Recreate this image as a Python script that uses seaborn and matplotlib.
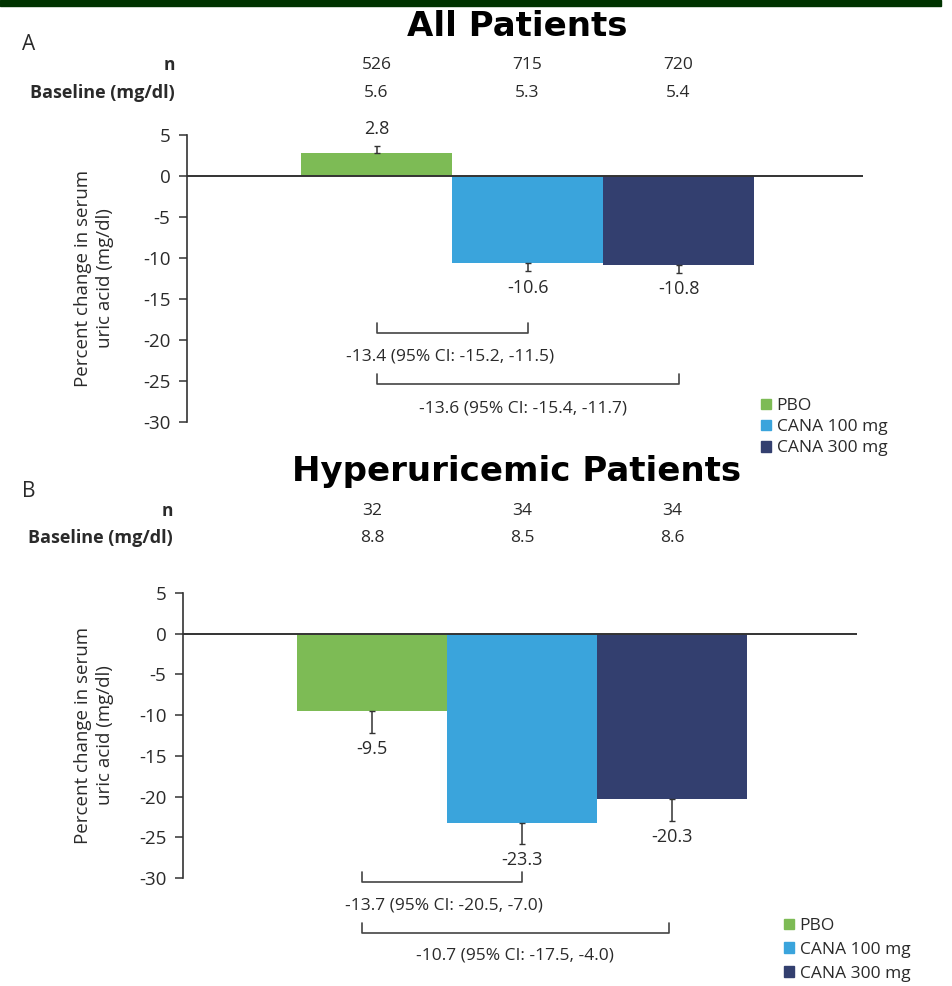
import matplotlib
matplotlib.use("Agg")
import matplotlib.pyplot as plt
import matplotlib.patches as mpatches
import seaborn as sns
import pandas as pd

# ---------------- data ----------------
groups = ["PBO", "CANA 100 mg", "CANA 300 mg"]
colors = ["#7dbb55", "#3aa4dc", "#333f6f"]

titles = ["All Patients", "Hyperuricemic Patients"]
panel_letters = ["A", "B"]

n_A = ["526", "715", "720"]
baseline_A = ["5.6", "5.3", "5.4"]
change_A = [2.8, -10.6, -10.8]
err_A = [0.9, 1.0, 1.0]
diff_A = ["-13.4 (95% CI: -15.2, -11.5)", "-13.6 (95% CI: -15.4, -11.7)"]

n_B = ["32", "34", "34"]
baseline_B = ["8.8", "8.5", "8.6"]
change_B = [-9.5, -23.3, -20.3]
err_B = [2.7, 2.5, 2.7]
diff_B = ["-13.7 (95% CI: -20.5, -7.0)", "-10.7 (95% CI: -17.5, -4.0)"]

yticks = [5, 0, -5, -10, -15, -20, -25, -30]
ylabel = "Percent change in serum\nuric acid (mg/dl)"

# ---------------- style ----------------
sns.set_theme(style="white")
plt.rcParams["font.family"] = ["Open Sans", "DejaVu Sans"]
TXT = "#2a2a2a"
FS = 12.5

W, H = 952, 986
fig = plt.figure(figsize=(W / 100, H / 100), dpi=100)


def fx(x):
    return x / W


def fy(y):
    return 1 - y / H


# top band
fig.patches.append(mpatches.Rectangle((0, fy(6)), fx(941), 6 / H,
                                      transform=fig.transFigure,
                                      color="#003300", zorder=5))

panels = [
    dict(n=n_A, base=baseline_A, change=change_A, err=err_A, diff=diff_A,
         axis_x=187, right=863, top=135, bottom=422, bar_l=301, bar_w=151,
         title_y=26, letter_y=45, n_y=65, base_y=93, lab_x=175,
         br=[(0, 1, -19.1, 0.49, -22.0), (0, 2, -25.4, 0.97, -28.4)],
         leg=(761, 398), leg_sp=0.3),
    dict(n=n_B, base=baseline_B, change=change_B, err=err_B, diff=diff_B,
         axis_x=183, right=857, top=593, bottom=878, bar_l=297, bar_w=150,
         title_y=471, letter_y=492, n_y=511, base_y=538, lab_x=173,
         br=[(-0.07, 1.0, -30.5, 0.48, -33.4), (-0.07, 1.98, -36.7, 0.95, -39.5)],
         leg=(784, 918), leg_sp=0.45),
]

for i, p in enumerate(panels):
    ax = fig.add_axes([fx(p["axis_x"]), fy(p["bottom"]),
                       (p["right"] - p["axis_x"]) / W,
                       (p["bottom"] - p["top"]) / H])
    df = pd.DataFrame({"group": groups, "change": p["change"]})
    sns.barplot(data=df, x="group", y="change", hue="group", order=groups,
                hue_order=groups, palette=colors, width=1.0, legend=False,
                ax=ax, saturation=1, linewidth=0, zorder=2)
    # one-sided error bars (away from zero)
    lower = [e if v < 0 else 0 for v, e in zip(p["change"], p["err"])]
    upper = [e if v > 0 else 0 for v, e in zip(p["change"], p["err"])]
    ax.errorbar(range(3), p["change"], yerr=[lower, upper], fmt="none",
                ecolor="#333333", elinewidth=1.1, capsize=2, capthick=1.0,
                zorder=3)
    xl = -0.5 - (p["bar_l"] - p["axis_x"]) / p["bar_w"]
    xr = xl + (p["right"] - p["axis_x"]) / p["bar_w"]
    ax.set_xlim(xl, xr)
    ax.set_ylim(-30, 5)
    ax.axhline(0, color="#333333", lw=1.4, zorder=4)
    for s in ["top", "right", "bottom"]:
        ax.spines[s].set_visible(False)
    ax.spines["left"].set_color("#333333")
    ax.spines["left"].set_linewidth(1.2)
    ax.set_yticks(yticks)
    ax.set_yticklabels([str(t) for t in yticks])
    ax.tick_params(axis="y", direction="out", length=6, width=1.1,
                   color="#333333", labelsize=13.5, labelcolor=TXT, pad=6,
                   left=True)
    ax.set_xticks([])
    ax.set_xlabel("")
    ax.set_ylabel(ylabel, fontsize=13.5, color=TXT, linespacing=1.35)
    ax.yaxis.label.set_va("center")
    ax.yaxis.set_label_coords((94 - p["axis_x"]) / (p["right"] - p["axis_x"]), 0.5)
    ax.patch.set_alpha(0)

    # value labels
    for j, (v, e) in enumerate(zip(p["change"], p["err"])):
        y = v + e + 2.0 if v > 0 else v - e - 2.0
        ax.text(j, y, f"{v:.1f}", ha="center", va="center", fontsize=13,
                color=TXT, clip_on=False)

    # header rows (n and baseline)
    ppu = (p["bottom"] - p["top"]) / 35.0
    zero_px = p["top"] + 5 * ppu
    for j in range(3):
        ax.text(j, (zero_px - p["n_y"]) / ppu, p["n"][j], ha="center",
                va="center", fontsize=FS, color=TXT, clip_on=False)
        ax.text(j, (zero_px - p["base_y"]) / ppu, p["base"][j], ha="center",
                va="center", fontsize=FS, color=TXT, clip_on=False)
    fig.text(fx(p["lab_x"]), fy(p["n_y"]), "n", ha="right", va="center",
             fontsize=FS, fontweight="bold", color=TXT)
    fig.text(fx(p["lab_x"]), fy(p["base_y"]), "Baseline (mg/dl)", ha="right",
             va="center", fontsize=13, fontweight="bold", color=TXT)

    # brackets for differences
    for (x0, x1, yb, tx, ty), label in zip(p["br"], p["diff"]):
        ax.plot([x0, x0, x1, x1], [yb + 1.2, yb, yb, yb + 1.2],
                color="#444444", lw=1.2, clip_on=False, zorder=3)
        ax.text(tx, ty, label, ha="center", va="center", fontsize=FS,
                color=TXT, clip_on=False)

    # title and letter
    fig.text(fx(517), fy(p["title_y"]), titles[i], ha="center", va="center",
             fontsize=24.5, fontweight="bold", color="black",
             family=["DejaVu Sans"])
    fig.text(fx(22), fy(p["letter_y"]), panel_letters[i], ha="left",
             va="center", fontsize=15, color=TXT)

    # legend
    handles = [mpatches.Patch(color=c, label=g) for c, g in zip(colors, groups)]
    fig.legend(handles=handles, loc="upper left",
               bbox_to_anchor=(fx(p["leg"][0]), fy(p["leg"][1])),
               frameon=False, fontsize=FS, handlelength=0.55,
               handleheight=0.55, handletextpad=0.35,
               labelspacing=p["leg_sp"], borderaxespad=0, borderpad=0,
               labelcolor=TXT)

fig.savefig("out.png", dpi=100)
